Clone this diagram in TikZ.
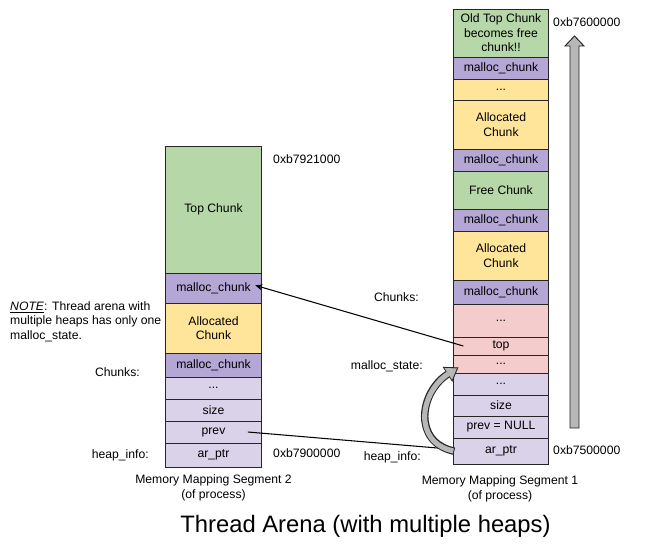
\documentclass[tikz,border=0pt]{standalone}
\usepackage{fontspec}
\setmainfont{Liberation Sans}
\usetikzlibrary{arrows.meta,positioning,calc}
\definecolor{cgreen}{HTML}{B6D7A8}
\definecolor{cpurple}{HTML}{B4A7D6}
\definecolor{cyellow}{HTML}{FFE599}
\definecolor{clav}{HTML}{D9D2E9}
\definecolor{cpink}{HTML}{F4CCCC}
\definecolor{cgrey}{HTML}{B7B7B7}
\tikzset{
  cell/.style={draw=black!85,line width=0.8pt,inner sep=0pt,outer sep=0pt,align=center,
               minimum width=2.86cm,font=\fontsize{10.4}{12.4}\selectfont},
  lbl/.style={font=\fontsize{10.4}{12.4}\selectfont,inner sep=0pt},
  ptr/.style={-{Stealth[length=2.2mm,width=1.8mm]},line width=0.9pt,black},
}

\begin{document}
\begin{tikzpicture}[x=0.03cm,y=-0.03cm]
\useasboundingbox (0,0) rectangle (653,558);
% segment 2 (left heap)
\foreach \nm/\t/\b/\txt/\fill in {
  LTop/146/273/{Top Chunk}/cgreen,
  Lmc1/273/303/{malloc\_chunk}/cpurple,
  Lalloc/303/353/{Allocated\\Chunk}/cyellow,
  Lmc2/353/377/{malloc\_chunk}/cpurple,
  Ldots/377/399/{...}/clav,
  Lsize/399/421/{size}/clav,
  Lprev/421/443/{prev}/clav,
  Lar/443/467/{ar\_ptr}/clav}{
  \node[cell,fill=\fill,minimum height={(\b-\t)*0.03cm}] (\nm) at (213.5,{(\t+\b)/2}) {\txt};}
% segment 1 (main heap)
\foreach \nm/\t/\b/\txt/\fill in {
  R1/9/57/{Old Top Chunk\\becomes free\\chunk!!}/cgreen,
  R2/57/79/{malloc\_chunk}/cpurple,
  R3/79/100/{...}/cyellow,
  R4/100/149/{Allocated\\Chunk}/cyellow,
  R5/149/171/{malloc\_chunk}/cpurple,
  R6/171/209/{Free Chunk}/cgreen,
  R7/209/231/{malloc\_chunk}/cpurple,
  R8/231/280/{Allocated\\Chunk}/cyellow,
  R9/280/304/{malloc\_chunk}/cpurple,
  R10/304/337/{...}/cpink,
  R11/337/355/{top}/cpink,
  R12/355/373/{...}/cpink,
  R13/373/395/{...}/clav,
  R14/395/416/{size}/clav,
  R15/416/438/{prev = NULL}/clav,
  R16/438/464/{ar\_ptr}/clav}{
  \node[cell,fill=\fill,minimum height={(\b-\t)*0.03cm}] (\nm) at (501,{(\t+\b)/2}) {\txt};}
% labels
\node[lbl,anchor=west] (a2top) at (273,159) {0xb7921000};
\node[lbl,anchor=west] (a2bot) at (273,453) {0xb7900000};
\node[lbl,anchor=east] (hi2) at (149,455) {heap\_info:};
\node[lbl,anchor=east] (ch2) at (140,372) {Chunks:};
\node[lbl,anchor=north west,align=left] (note) at (10,301) {\underline{\textit{NOTE}}: Thread arena with\\multiple heaps has only one\\malloc\_state.};
\node[lbl,align=center] (seg2) at (213.5,488) {Memory Mapping Segment 2\\(of process)};
\node[lbl,anchor=west] (a1top) at (553,22) {0xb7600000};
\node[lbl,anchor=west] (a1bot) at (553,450) {0xb7500000};
\node[lbl,anchor=east] (ch1) at (419,297) {Chunks:};
\node[lbl,anchor=east] (ms1) at (423,366) {malloc\_state:};
\node[lbl,anchor=east] (hi1) at (421,457) {heap\_info:};
\node[lbl,align=center] (seg1) at (500,489) {Memory Mapping Segment 1\\(of process)};
\node[font=\fontsize{20.3}{24}\selectfont,inner sep=0pt] (title) at (365.5,526) {Thread Arena (with multiple heaps)};
% growth arrow
\draw[fill=cgrey,draw=black!85,line width=0.8pt] (570,428) -- (579,428) -- (579,46) -- (584,46)
  -- (574.5,36) -- (565,46) -- (570,46) -- cycle;
% pointers
\draw[ptr] ([xshift=0.3cm]R11.west) -- ([xshift=-0.18cm,yshift=0.08cm]Lmc1.east);
\draw[line width=0.9pt] ([xshift=-0.4cm]Lprev.east) -- ([yshift=0.05cm]R16.west);
\coordinate (tipL) at ([xshift=0.15cm,yshift=-0.1cm]R12.west);
\draw[line width=6.4pt,black!85,shorten <=-0.8pt,-{Triangle[length=11pt,width=15pt,line width=0.1pt]}]
  (R16.west) .. controls (412,442) and (420,392) .. (tipL);
\draw[line width=4.4pt,cgrey,shorten >=1.6pt,-{Triangle[length=8.6pt,width=11.8pt,line width=0.1pt]}]
  (R16.west) .. controls (412,442) and (420,392) .. (tipL);
\end{tikzpicture}
\end{document}
